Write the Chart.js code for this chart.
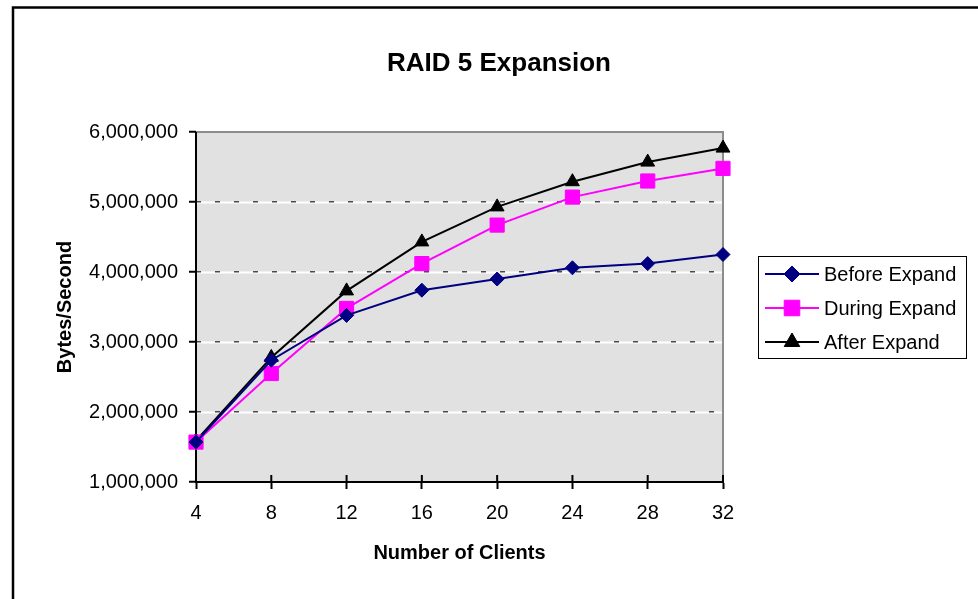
<!DOCTYPE html>
<html>
<head>
<meta charset="utf-8">
<script src="https://cdn.jsdelivr.net/npm/chart.js@4/dist/chart.umd.min.js"></script>
<style>
  html, body { margin: 0; padding: 0; background: #fff; }
  canvas { display: block; }
</style>
</head>
<body>
<canvas id="myChart" width="978" height="599"></canvas>
<script>
var clients = [4, 8, 12, 16, 20, 24, 28, 32];
var beforeExpand = [1570000, 2740000, 3380000, 3740000, 3900000, 4060000, 4120000, 4250000];
var duringExpand = [1570000, 2550000, 3480000, 4120000, 4670000, 5070000, 5300000, 5480000];
var afterExpand = [1590000, 2780000, 3730000, 4430000, 4930000, 5290000, 5570000, 5770000];
var seriesNames = ['Before Expand', 'During Expand', 'After Expand'];
var chartTitle = 'RAID 5 Expansion';
var yMin = 1000000, yMax = 6000000, yStep = 1000000;

var FONT = '"Liberation Sans", Arial, sans-serif';

// background, frame, title and the boxed legend
var excelLook = {
  id: 'excelLook',
  beforeDraw: function (chart) {
    var ctx = chart.ctx, a = chart.chartArea, y = chart.scales.y;
    ctx.save();
    ctx.fillStyle = '#e1e1e1';
    ctx.fillRect(a.left, a.top, a.right - a.left, a.bottom - a.top);
    ctx.strokeStyle = '#ffffff';
    ctx.lineWidth = 2;
    for (var v = yMin + yStep; v < yMax; v += yStep) {
      var py = Math.round(y.getPixelForValue(v)) + 0.5;
      ctx.beginPath(); ctx.moveTo(a.left, py); ctx.lineTo(a.right, py); ctx.stroke();
    }
    // outer chart frame
    ctx.strokeStyle = '#000';
    ctx.lineWidth = 2.5;
    ctx.beginPath(); ctx.moveTo(13, 600); ctx.lineTo(13, 7.5); ctx.lineTo(980, 7.5); ctx.stroke();
    ctx.restore();
  },
  beforeDatasetsDraw: function (chart) {
    var ctx = chart.ctx, a = chart.chartArea, x = chart.scales.x;
    ctx.save();
    ctx.strokeStyle = '#8c8c8c';
    ctx.lineWidth = 2;
    ctx.beginPath(); ctx.moveTo(a.left, a.top); ctx.lineTo(a.right, a.top); ctx.lineTo(a.right, a.bottom); ctx.stroke();
    // axis lines drawn solid here so the dashed grid setting can't touch them
    ctx.strokeStyle = '#000';
    ctx.beginPath(); ctx.moveTo(a.left, a.top); ctx.lineTo(a.left, a.bottom); ctx.lineTo(a.right, a.bottom); ctx.stroke();
    for (var i = 0; i < clients.length; i++) {
      var px = x.getPixelForValue(i);
      ctx.beginPath(); ctx.moveTo(px, a.bottom - 7); ctx.lineTo(px, a.bottom); ctx.stroke();
    }
    ctx.restore();
  },
  afterDraw: function (chart) {
    var ctx = chart.ctx;
    ctx.save();
    ctx.fillStyle = '#000';
    ctx.font = 'bold 26px ' + FONT;
    ctx.textAlign = 'center';
    ctx.textBaseline = 'alphabetic';
    ctx.fillText(chartTitle, 499, 71);

    ctx.strokeStyle = '#000';
    ctx.lineWidth = 1;
    ctx.strokeRect(758.5, 256.5, 208, 102);
    var rows = [274, 308, 342];
    ctx.font = '20px ' + FONT;
    ctx.textAlign = 'left';
    ctx.textBaseline = 'middle';
    chart.data.datasets.forEach(function (ds, i) {
      var ry = rows[i];
      ctx.strokeStyle = ds.borderColor;
      ctx.lineWidth = 2;
      ctx.beginPath(); ctx.moveTo(765, ry); ctx.lineTo(819, ry); ctx.stroke();
      ctx.fillStyle = ds.pointBackgroundColor;
      ctx.strokeStyle = ds.pointBorderColor;
      ctx.lineWidth = 1;
      Chart.helpers.drawPoint(ctx, {pointStyle: ds.pointStyle, radius: ds.pointRadius + 1, rotation: 0, borderWidth: 1}, 792, ry);
      ctx.fillStyle = '#000';
      ctx.fillText(ds.label, 824, ry + 1);
    });
    ctx.restore();
  }
};

function series(label, data, color, style, radius) {
  return {
    label: label, data: data,
    borderColor: color, backgroundColor: color,
    pointBackgroundColor: color, pointBorderColor: color,
    pointStyle: style, pointRadius: radius, pointHoverRadius: radius,
    borderWidth: 2, pointBorderWidth: 1, tension: 0, fill: false
  };
}

var ctx = document.getElementById('myChart').getContext('2d');
new Chart(ctx, {
  type: 'line',
  data: {
    labels: clients,
    datasets: [
      series(seriesNames[0], beforeExpand, '#000080', 'rectRot', 7),
      series(seriesNames[1], duringExpand, '#ff00ff', 'rect', 10),
      series(seriesNames[2], afterExpand, '#000000', 'triangle', 8)
    ]
  },
  options: {
    responsive: false,
    animation: false,
    events: [],
    layout: {padding: {top: 132, right: 255, bottom: 0, left: 0}},
    plugins: {legend: {display: false}, title: {display: false}, tooltip: {enabled: false}},
    scales: {
      x: {
        offset: false,
        afterFit: function (s) { s.height = 117; },
        border: {display: true, color: '#000', width: 2},
        grid: {drawOnChartArea: false, drawTicks: true, tickLength: 7, tickColor: '#000', tickWidth: 2},
        ticks: {color: '#000', padding: 12, maxRotation: 0, font: {family: FONT, size: 20}},
        title: {display: true, text: 'Number of Clients', color: '#000',
                padding: {top: 0, bottom: 34}, font: {family: FONT, size: 20, weight: 'bold'}}
      },
      y: {
        min: yMin, max: yMax,
        afterFit: function (s) { s.width = 196; },
        border: {display: false, dash: [5, 14]},
        grid: {
          color: function (c) { return (c.tick.value === yMin || c.tick.value === yMax) ? 'rgba(0,0,0,0)' : '#4a4a4a'; },
          lineWidth: 1.5,
          drawTicks: true, tickLength: 7, tickColor: '#000', tickWidth: 2, tickBorderDash: []
        },
        ticks: {
          stepSize: yStep, color: '#000', padding: 11, font: {family: FONT, size: 20},
          callback: function (v) { return v.toLocaleString('en-US'); }
        },
        title: {display: true, text: 'Bytes/Second', color: '#000',
                padding: {top: 53, bottom: 0}, font: {family: FONT, size: 20, weight: 'bold'}}
      }
    }
  },
  plugins: [excelLook]
});
</script>
</body>
</html>
